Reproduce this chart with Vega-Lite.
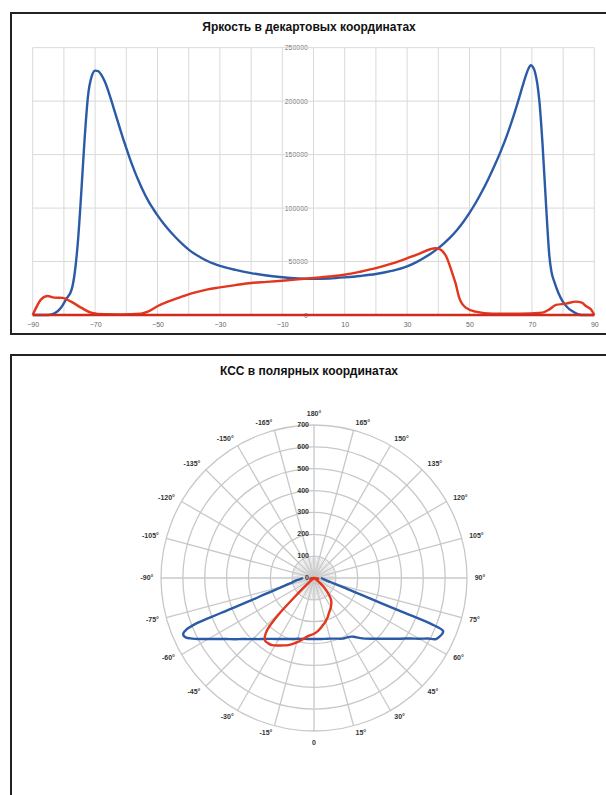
{
  "$schema": "https://vega.github.io/schema/vega-lite/v6.json",
  "background": "white",
  "padding": {"left": 10, "top": 12, "right": 0, "bottom": 0},
  "spacing": 19,
  "config": {"view": {"stroke": "#222", "strokeWidth": 2}, "font": "Liberation Sans"},
  "datasets": {
    "cart": [
      {"s": "b", "x": -90, "y": 0}, {"s": "b", "x": -87, "y": 0}, {"s": "b", "x": -85, "y": 0}, {"s": "b", "x": -83, "y": 1500},
      {"s": "b", "x": -81, "y": 6500}, {"s": "b", "x": -79.3, "y": 14700}, {"s": "b", "x": -77.5, "y": 24000}, {"s": "b", "x": -76.5, "y": 40000},
      {"s": "b", "x": -75.5, "y": 69000}, {"s": "b", "x": -74.4, "y": 116000}, {"s": "b", "x": -73.4, "y": 163000}, {"s": "b", "x": -72.3, "y": 204000},
      {"s": "b", "x": -71, "y": 224000}, {"s": "b", "x": -70, "y": 228500}, {"s": "b", "x": -69, "y": 228000}, {"s": "b", "x": -68, "y": 224500},
      {"s": "b", "x": -67, "y": 219000}, {"s": "b", "x": -66, "y": 211500}, {"s": "b", "x": -65, "y": 202500}, {"s": "b", "x": -64, "y": 193000},
      {"s": "b", "x": -63, "y": 183500}, {"s": "b", "x": -62, "y": 174000}, {"s": "b", "x": -61, "y": 164800}, {"s": "b", "x": -60, "y": 156000},
      {"s": "b", "x": -59, "y": 147500}, {"s": "b", "x": -58, "y": 139500}, {"s": "b", "x": -57, "y": 132000}, {"s": "b", "x": -56, "y": 125000},
      {"s": "b", "x": -55, "y": 118500}, {"s": "b", "x": -54, "y": 112500}, {"s": "b", "x": -53, "y": 107000}, {"s": "b", "x": -52, "y": 102000},
      {"s": "b", "x": -51, "y": 97500}, {"s": "b", "x": -50, "y": 93200}, {"s": "b", "x": -48, "y": 85300}, {"s": "b", "x": -46, "y": 78300},
      {"s": "b", "x": -44, "y": 72000}, {"s": "b", "x": -42, "y": 66300}, {"s": "b", "x": -40, "y": 61200}, {"s": "b", "x": -38, "y": 57000},
      {"s": "b", "x": -36, "y": 53500}, {"s": "b", "x": -34, "y": 50500}, {"s": "b", "x": -32, "y": 48000}, {"s": "b", "x": -30, "y": 46000},
      {"s": "b", "x": -25, "y": 42200}, {"s": "b", "x": -20, "y": 39200}, {"s": "b", "x": -15, "y": 37000}, {"s": "b", "x": -10, "y": 35300},
      {"s": "b", "x": -5, "y": 34200}, {"s": "b", "x": 0, "y": 33800}, {"s": "b", "x": 5, "y": 34200}, {"s": "b", "x": 10, "y": 35200},
      {"s": "b", "x": 15, "y": 36500}, {"s": "b", "x": 20, "y": 38300}, {"s": "b", "x": 25, "y": 41200}, {"s": "b", "x": 30, "y": 45500},
      {"s": "b", "x": 33, "y": 49500}, {"s": "b", "x": 36, "y": 54500}, {"s": "b", "x": 38, "y": 58300}, {"s": "b", "x": 40, "y": 62500},
      {"s": "b", "x": 42, "y": 67500}, {"s": "b", "x": 44, "y": 73000}, {"s": "b", "x": 46, "y": 79500}, {"s": "b", "x": 48, "y": 87000},
      {"s": "b", "x": 50, "y": 95500}, {"s": "b", "x": 52, "y": 105000}, {"s": "b", "x": 54, "y": 115500}, {"s": "b", "x": 56, "y": 127000},
      {"s": "b", "x": 58, "y": 139500}, {"s": "b", "x": 60, "y": 153000}, {"s": "b", "x": 62, "y": 168000}, {"s": "b", "x": 64, "y": 185000},
      {"s": "b", "x": 65.5, "y": 199000}, {"s": "b", "x": 67, "y": 214000}, {"s": "b", "x": 68, "y": 223500}, {"s": "b", "x": 69, "y": 231000},
      {"s": "b", "x": 69.6, "y": 233500}, {"s": "b", "x": 70.3, "y": 232000}, {"s": "b", "x": 71, "y": 227000}, {"s": "b", "x": 71.7, "y": 217000},
      {"s": "b", "x": 72.4, "y": 200000}, {"s": "b", "x": 73.4, "y": 160000}, {"s": "b", "x": 74.3, "y": 115000}, {"s": "b", "x": 75, "y": 80000},
      {"s": "b", "x": 75.6, "y": 55000}, {"s": "b", "x": 76.3, "y": 40000}, {"s": "b", "x": 77.2, "y": 31000}, {"s": "b", "x": 78.5, "y": 20500},
      {"s": "b", "x": 79.8, "y": 13000}, {"s": "b", "x": 81.5, "y": 6800}, {"s": "b", "x": 83, "y": 3500}, {"s": "b", "x": 85, "y": 500},
      {"s": "b", "x": 86, "y": 0}, {"s": "b", "x": 90, "y": 0},
      {"s": "r", "x": -90, "y": 0}, {"s": "r", "x": -88.9, "y": 6900}, {"s": "r", "x": -87.3, "y": 14700}, {"s": "r", "x": -85.2, "y": 17800},
      {"s": "r", "x": -83.1, "y": 16300}, {"s": "r", "x": -80.4, "y": 16000}, {"s": "r", "x": -77.7, "y": 12500}, {"s": "r", "x": -74.5, "y": 6900},
      {"s": "r", "x": -71.3, "y": 2200}, {"s": "r", "x": -67, "y": 700}, {"s": "r", "x": -61.7, "y": 600}, {"s": "r", "x": -55.3, "y": 1300},
      {"s": "r", "x": -53.1, "y": 3100}, {"s": "r", "x": -49.9, "y": 8400}, {"s": "r", "x": -46.7, "y": 12500}, {"s": "r", "x": -42.5, "y": 16900},
      {"s": "r", "x": -38.2, "y": 20900}, {"s": "r", "x": -33.9, "y": 24000}, {"s": "r", "x": -30, "y": 25800}, {"s": "r", "x": -25, "y": 28000},
      {"s": "r", "x": -20, "y": 30000}, {"s": "r", "x": -15, "y": 31000}, {"s": "r", "x": -10, "y": 32100}, {"s": "r", "x": -5, "y": 33300},
      {"s": "r", "x": 0, "y": 34600}, {"s": "r", "x": 5, "y": 36000}, {"s": "r", "x": 10, "y": 37700}, {"s": "r", "x": 15, "y": 40500},
      {"s": "r", "x": 20, "y": 43800}, {"s": "r", "x": 25, "y": 48000}, {"s": "r", "x": 30, "y": 53100}, {"s": "r", "x": 34, "y": 57500},
      {"s": "r", "x": 37.4, "y": 61500}, {"s": "r", "x": 39, "y": 62500}, {"s": "r", "x": 40.5, "y": 61500}, {"s": "r", "x": 42.5, "y": 55000},
      {"s": "r", "x": 44.6, "y": 38100}, {"s": "r", "x": 45.5, "y": 30000}, {"s": "r", "x": 46.7, "y": 16250}, {"s": "r", "x": 48.8, "y": 6900},
      {"s": "r", "x": 52, "y": 3100}, {"s": "r", "x": 57.3, "y": 1250}, {"s": "r", "x": 66, "y": 1250}, {"s": "r", "x": 73.4, "y": 2200},
      {"s": "r", "x": 75.6, "y": 5300}, {"s": "r", "x": 77.7, "y": 9400}, {"s": "r", "x": 80.9, "y": 10600}, {"s": "r", "x": 84.1, "y": 12500},
      {"s": "r", "x": 86, "y": 11500}, {"s": "r", "x": 87.3, "y": 8400}, {"s": "r", "x": 88.9, "y": 5300}, {"s": "r", "x": 90, "y": 0},
      {"s": "r0", "x": -90, "y": 0}, {"s": "r0", "x": 90, "y": 0}
    ],
    "vg": [{"g": -90}, {"g": -80}, {"g": -70}, {"g": -60}, {"g": -50}, {"g": -40}, {"g": -30}, {"g": -20}, {"g": -10}, {"g": 0}, {"g": 10}, {"g": 20}, {"g": 30}, {"g": 40}, {"g": 50}, {"g": 60}, {"g": 70}, {"g": 80}, {"g": 90}],
    "hg": [{"g": 50000}, {"g": 100000}, {"g": 150000}, {"g": 200000}, {"g": 250000}],
    "polar": [
      {"s": "b", "a": -90, "r": 50}, {"s": "b", "a": -86, "r": 60}, {"s": "b", "a": -82, "r": 85}, {"s": "b", "a": -78, "r": 105},
      {"s": "b", "a": -76, "r": 130}, {"s": "b", "a": -74, "r": 160}, {"s": "b", "a": -72, "r": 230}, {"s": "b", "a": -70.4, "r": 306},
      {"s": "b", "a": -69.4, "r": 455}, {"s": "b", "a": -68.9, "r": 579}, {"s": "b", "a": -68, "r": 630}, {"s": "b", "a": -67, "r": 650},
      {"s": "b", "a": -66, "r": 652}, {"s": "b", "a": -65, "r": 645}, {"s": "b", "a": -64, "r": 630}, {"s": "b", "a": -63, "r": 613},
      {"s": "b", "a": -62, "r": 594}, {"s": "b", "a": -60, "r": 558}, {"s": "b", "a": -57, "r": 512}, {"s": "b", "a": -55, "r": 487},
      {"s": "b", "a": -52, "r": 455}, {"s": "b", "a": -50, "r": 434}, {"s": "b", "a": -47, "r": 410}, {"s": "b", "a": -45, "r": 395},
      {"s": "b", "a": -42, "r": 376}, {"s": "b", "a": -40, "r": 364}, {"s": "b", "a": -35, "r": 340}, {"s": "b", "a": -30, "r": 322},
      {"s": "b", "a": -25, "r": 308}, {"s": "b", "a": -20, "r": 297}, {"s": "b", "a": -15, "r": 288}, {"s": "b", "a": -10, "r": 283},
      {"s": "b", "a": -5, "r": 280}, {"s": "b", "a": 0, "r": 279}, {"s": "b", "a": 5, "r": 280}, {"s": "b", "a": 10, "r": 283},
      {"s": "b", "a": 15, "r": 287}, {"s": "b", "a": 20, "r": 295}, {"s": "b", "a": 25, "r": 306}, {"s": "b", "a": 28, "r": 310},
      {"s": "b", "a": 31, "r": 314}, {"s": "b", "a": 34, "r": 324}, {"s": "b", "a": 37, "r": 343}, {"s": "b", "a": 40, "r": 362},
      {"s": "b", "a": 45, "r": 393}, {"s": "b", "a": 50, "r": 432}, {"s": "b", "a": 55, "r": 484}, {"s": "b", "a": 58, "r": 522},
      {"s": "b", "a": 60, "r": 556}, {"s": "b", "a": 62, "r": 590}, {"s": "b", "a": 63.4, "r": 624}, {"s": "b", "a": 65, "r": 634},
      {"s": "b", "a": 66.5, "r": 640}, {"s": "b", "a": 67.7, "r": 638}, {"s": "b", "a": 68.6, "r": 575}, {"s": "b", "a": 69.06, "r": 426},
      {"s": "b", "a": 70.4, "r": 228}, {"s": "b", "a": 73, "r": 130}, {"s": "b", "a": 76, "r": 80}, {"s": "b", "a": 80, "r": 55},
      {"s": "b", "a": 85, "r": 40}, {"s": "b", "a": 90, "r": 32},
      {"s": "r", "a": -90, "r": 0}, {"s": "r", "a": -85, "r": 10}, {"s": "r", "a": -80, "r": 18}, {"s": "r", "a": -75, "r": 8},
      {"s": "r", "a": -70, "r": 3}, {"s": "r", "a": -60, "r": 2}, {"s": "r", "a": -55, "r": 3}, {"s": "r", "a": -50, "r": 15},
      {"s": "r", "a": -48, "r": 35}, {"s": "r", "a": -46, "r": 105}, {"s": "r", "a": -44, "r": 240}, {"s": "r", "a": -42, "r": 320},
      {"s": "r", "a": -40, "r": 350}, {"s": "r", "a": -38, "r": 364}, {"s": "r", "a": -35, "r": 365}, {"s": "r", "a": -32, "r": 362},
      {"s": "r", "a": -28, "r": 350}, {"s": "r", "a": -25, "r": 340}, {"s": "r", "a": -21, "r": 329}, {"s": "r", "a": -15, "r": 305},
      {"s": "r", "a": -10, "r": 283}, {"s": "r", "a": -5, "r": 265}, {"s": "r", "a": 0, "r": 255}, {"s": "r", "a": 5, "r": 240},
      {"s": "r", "a": 10, "r": 222}, {"s": "r", "a": 15, "r": 205}, {"s": "r", "a": 20, "r": 187}, {"s": "r", "a": 23, "r": 174},
      {"s": "r", "a": 28, "r": 160}, {"s": "r", "a": 33, "r": 145}, {"s": "r", "a": 38, "r": 127}, {"s": "r", "a": 42, "r": 100},
      {"s": "r", "a": 45, "r": 78}, {"s": "r", "a": 48, "r": 55}, {"s": "r", "a": 50, "r": 38}, {"s": "r", "a": 53, "r": 20},
      {"s": "r", "a": 55, "r": 8}, {"s": "r", "a": 60, "r": 3}, {"s": "r", "a": 70, "r": 2}, {"s": "r", "a": 75, "r": 5},
      {"s": "r", "a": 78, "r": 15}, {"s": "r", "a": 82, "r": 20}, {"s": "r", "a": 85, "r": 18}, {"s": "r", "a": 88, "r": 10},
      {"s": "r", "a": 90, "r": 0}
    ],
    "rings": [{"r": 100}, {"r": 200}, {"r": 300}, {"r": 400}, {"r": 500}, {"r": 600}, {"r": 700}],
    "spokes": [
      {"a": -175}, {"a": -170}, {"a": -165}, {"a": -160}, {"a": -155}, {"a": -150}, {"a": -145}, {"a": -140}, {"a": -135}, {"a": -130}, {"a": -125}, {"a": -120},
      {"a": -115}, {"a": -110}, {"a": -105}, {"a": -100}, {"a": -95}, {"a": -90}, {"a": -85}, {"a": -80}, {"a": -75}, {"a": -70}, {"a": -65}, {"a": -60},
      {"a": -55}, {"a": -50}, {"a": -45}, {"a": -40}, {"a": -35}, {"a": -30}, {"a": -25}, {"a": -20}, {"a": -15}, {"a": -10}, {"a": -5}, {"a": 0},
      {"a": 5}, {"a": 10}, {"a": 15}, {"a": 20}, {"a": 25}, {"a": 30}, {"a": 35}, {"a": 40}, {"a": 45}, {"a": 50}, {"a": 55}, {"a": 60},
      {"a": 65}, {"a": 70}, {"a": 75}, {"a": 80}, {"a": 85}, {"a": 90}, {"a": 95}, {"a": 100}, {"a": 105}, {"a": 110}, {"a": 115}, {"a": 120},
      {"a": 125}, {"a": 130}, {"a": 135}, {"a": 140}, {"a": 145}, {"a": 150}, {"a": 155}, {"a": 160}, {"a": 165}, {"a": 170}, {"a": 175}, {"a": 180}
    ],
    "rl": [{"v": 0, "t": "0"}, {"v": 100, "t": "100"}, {"v": 200, "t": "200"}, {"v": 300, "t": "300"}, {"v": 400, "t": "400"}, {"v": 500, "t": "500"}, {"v": 600, "t": "600"}, {"v": 700, "t": "700"}],
    "al": [
      {"a": 180, "t": "180°"}, {"a": 165, "t": "165°"}, {"a": 150, "t": "150°"}, {"a": 135, "t": "135°"}, {"a": 120, "t": "120°"}, {"a": 105, "t": "105°"},
      {"a": 90, "t": "90°"}, {"a": 75, "t": "75°"}, {"a": 60, "t": "60°"}, {"a": 45, "t": "45°"}, {"a": 30, "t": "30°"}, {"a": 15, "t": "15°"},
      {"a": 0, "t": "0"}, {"a": -15, "t": "-15°"}, {"a": -30, "t": "-30°"}, {"a": -45, "t": "-45°"}, {"a": -60, "t": "-60°"}, {"a": -75, "t": "-75°"},
      {"a": -90, "t": "-90°"}, {"a": -105, "t": "-105°"}, {"a": -120, "t": "-120°"}, {"a": -135, "t": "-135°"}, {"a": -150, "t": "-150°"}, {"a": -165, "t": "-165°"}
    ]
  },
  "vconcat": [
    {
      "width": 596,
      "height": 321,
      "title": {"text": "Яркость в декартовых координатах", "offset": -26, "baseline": "middle", "fontSize": 12, "fontWeight": "bold", "color": "#111", "anchor": "middle"},
      "layer": [
        {
          "data": {"name": "vg"},
          "transform": [{"calculate": "0", "as": "y0"}, {"calculate": "250000", "as": "y1"}],
          "mark": {"type": "rule", "stroke": "#d9d9d9", "strokeWidth": 1},
          "encoding": {
            "x": {"field": "g", "type": "quantitative", "scale": {"domain": [-96.955, 94.071], "nice": false, "zero": false},
                  "axis": {"values": [-90, -80, -70, -60, -50, -40, -30, -20, -10, 0, 10, 20, 30, 40, 50, 60, 70, 80, 90], "title": null, "domain": false, "ticks": false, "grid": false, "labelFontSize": 7, "labelColor": "#666", "labelPadding": 5, "offset": -19, "labelFlush": false, "labelOverlap": false}},
            "y": {"field": "y0", "type": "quantitative", "scale": {"domain": [-17757, 282431], "nice": false, "zero": false},
                  "axis": {"values": [0, 50000, 100000, 150000, 200000, 250000], "format": "d", "title": null, "domain": false, "ticks": false, "grid": false, "labelFontSize": 7, "labelColor": "#777", "labelPadding": 6, "offset": -302.5, "labelFlush": false, "labelOverlap": false}},
            "y2": {"field": "y1"}
          }
        },
        {
          "data": {"name": "hg"},
          "transform": [{"calculate": "-90", "as": "x0"}, {"calculate": "90", "as": "x1"}],
          "mark": {"type": "rule", "stroke": "#d9d9d9", "strokeWidth": 1},
          "encoding": {
            "y": {"field": "g", "type": "quantitative"},
            "x": {"field": "x0", "type": "quantitative"},
            "x2": {"field": "x1"}
          }
        },
        {
          "data": {"name": "cart"},
          "mark": {"type": "line", "strokeWidth": 2.4, "interpolate": "monotone"},
          "encoding": {
            "x": {"field": "x", "type": "quantitative"},
            "y": {"field": "y", "type": "quantitative"},
            "color": {"field": "s", "type": "nominal", "scale": {"domain": ["b", "r", "r0"], "range": ["#2b5aa6", "#e2361f", "#cf2b1f"]}, "legend": null}
          }
        }
      ]
    },
    {
      "width": 596,
      "height": 443,
      "title": {"text": "КСС в полярных координатах", "offset": -28, "baseline": "middle", "fontSize": 12, "fontWeight": "bold", "color": "#111", "anchor": "middle"},
      "layer": [
        {
          "data": {"name": "rings"},
          "transform": [{"calculate": "0", "as": "z"}],
          "mark": {"type": "point", "shape": "circle", "filled": false, "stroke": "#c8c8c8", "strokeWidth": 1.3, "opacity": 1},
          "encoding": {
            "x": {"field": "z", "type": "quantitative", "scale": {"domain": [-1386.3, 1340.5], "nice": false, "zero": false}, "axis": null},
            "y": {"field": "z", "type": "quantitative", "scale": {"domain": [-1006.5, 1020.3], "nice": false, "zero": false}, "axis": null},
            "size": {"field": "r", "type": "quantitative", "scale": {"type": "pow", "exponent": 2, "domain": [0, 700], "range": [0, 93636]}, "legend": null}
          }
        },
        {
          "data": {"name": "spokes"},
          "transform": [
            {"calculate": "0", "as": "z"},
            {"calculate": "100 * sin(datum.a * PI / 180)", "as": "ex"},
            {"calculate": "-100 * cos(datum.a * PI / 180)", "as": "ey"}
          ],
          "mark": {"type": "rule", "stroke": "#d4d4d4", "strokeWidth": 0.8},
          "encoding": {
            "x": {"field": "z", "type": "quantitative", "scale": {"domain": [-1386.3, 1340.5], "nice": false, "zero": false}, "axis": null},
            "y": {"field": "z", "type": "quantitative", "scale": {"domain": [-1006.5, 1020.3], "nice": false, "zero": false}, "axis": null},
            "x2": {"field": "ex"},
            "y2": {"field": "ey"}
          }
        },
        {
          "data": {"name": "spokes"},
          "transform": [
            {"filter": "datum.a % 15 == 0"},
            {"calculate": "0", "as": "z"},
            {"calculate": "700 * sin(datum.a * PI / 180)", "as": "ex"},
            {"calculate": "-700 * cos(datum.a * PI / 180)", "as": "ey"}
          ],
          "mark": {"type": "rule", "stroke": "#c8c8c8", "strokeWidth": 1.3},
          "encoding": {
            "x": {"field": "z", "type": "quantitative", "scale": {"domain": [-1386.3, 1340.5], "nice": false, "zero": false}, "axis": null},
            "y": {"field": "z", "type": "quantitative", "scale": {"domain": [-1006.5, 1020.3], "nice": false, "zero": false}, "axis": null},
            "x2": {"field": "ex"},
            "y2": {"field": "ey"}
          }
        },
        {
          "data": {"name": "polar"},
          "transform": [
            {"calculate": "datum.r * sin(datum.a * PI / 180)", "as": "px"},
            {"calculate": "-datum.r * cos(datum.a * PI / 180)", "as": "py"}
          ],
          "mark": {"type": "line", "strokeWidth": 2.4, "interpolate": "catmull-rom"},
          "encoding": {
            "x": {"field": "px", "type": "quantitative", "scale": {"domain": [-1386.3, 1340.5], "nice": false, "zero": false}, "axis": null},
            "y": {"field": "py", "type": "quantitative", "scale": {"domain": [-1006.5, 1020.3], "nice": false, "zero": false}, "axis": null},
            "order": {"field": "a", "type": "quantitative"},
            "color": {"field": "s", "type": "nominal", "scale": {"domain": ["b", "r"], "range": ["#2b5aa6", "#e2361f"]}, "legend": null}
          }
        },
        {
          "data": {"name": "rl"},
          "transform": [{"calculate": "0", "as": "z"}],
          "mark": {"type": "text", "align": "right", "baseline": "middle", "dx": -5, "fontSize": 7, "fontWeight": "bold", "color": "#333"},
          "encoding": {
            "x": {"field": "z", "type": "quantitative", "scale": {"domain": [-1386.3, 1340.5], "nice": false, "zero": false}, "axis": null},
            "y": {"field": "v", "type": "quantitative", "scale": {"domain": [-1006.5, 1020.3], "nice": false, "zero": false}, "axis": null},
            "text": {"field": "t", "type": "nominal"}
          }
        },
        {
          "data": {"name": "al"},
          "transform": [
            {"filter": "datum.a > 0 && datum.a < 180"},
            {"calculate": "735 * sin(datum.a * PI / 180)", "as": "lx"},
            {"calculate": "-735 * cos(datum.a * PI / 180)", "as": "ly"}
          ],
          "mark": {"type": "text", "align": "left", "baseline": "middle", "fontSize": 7, "fontWeight": "bold", "color": "#333"},
          "encoding": {
            "x": {"field": "lx", "type": "quantitative", "scale": {"domain": [-1386.3, 1340.5], "nice": false, "zero": false}, "axis": null},
            "y": {"field": "ly", "type": "quantitative", "scale": {"domain": [-1006.5, 1020.3], "nice": false, "zero": false}, "axis": null},
            "text": {"field": "t", "type": "nominal"}
          }
        },
        {
          "data": {"name": "al"},
          "transform": [
            {"filter": "datum.a < 0"},
            {"calculate": "735 * sin(datum.a * PI / 180)", "as": "lx"},
            {"calculate": "-735 * cos(datum.a * PI / 180)", "as": "ly"}
          ],
          "mark": {"type": "text", "align": "right", "baseline": "middle", "fontSize": 7, "fontWeight": "bold", "color": "#333"},
          "encoding": {
            "x": {"field": "lx", "type": "quantitative", "scale": {"domain": [-1386.3, 1340.5], "nice": false, "zero": false}, "axis": null},
            "y": {"field": "ly", "type": "quantitative", "scale": {"domain": [-1006.5, 1020.3], "nice": false, "zero": false}, "axis": null},
            "text": {"field": "t", "type": "nominal"}
          }
        },
        {
          "data": {"name": "al"},
          "transform": [
            {"filter": "datum.a == 180"},
            {"calculate": "735 * sin(datum.a * PI / 180)", "as": "lx"},
            {"calculate": "-735 * cos(datum.a * PI / 180)", "as": "ly"}
          ],
          "mark": {"type": "text", "align": "center", "baseline": "bottom", "fontSize": 7, "fontWeight": "bold", "color": "#333"},
          "encoding": {
            "x": {"field": "lx", "type": "quantitative", "scale": {"domain": [-1386.3, 1340.5], "nice": false, "zero": false}, "axis": null},
            "y": {"field": "ly", "type": "quantitative", "scale": {"domain": [-1006.5, 1020.3], "nice": false, "zero": false}, "axis": null},
            "text": {"field": "t", "type": "nominal"}
          }
        },
        {
          "data": {"name": "al"},
          "transform": [
            {"filter": "datum.a == 0"},
            {"calculate": "735 * sin(datum.a * PI / 180)", "as": "lx"},
            {"calculate": "-735 * cos(datum.a * PI / 180)", "as": "ly"}
          ],
          "mark": {"type": "text", "align": "center", "baseline": "top", "fontSize": 7, "fontWeight": "bold", "color": "#333"},
          "encoding": {
            "x": {"field": "lx", "type": "quantitative", "scale": {"domain": [-1386.3, 1340.5], "nice": false, "zero": false}, "axis": null},
            "y": {"field": "ly", "type": "quantitative", "scale": {"domain": [-1006.5, 1020.3], "nice": false, "zero": false}, "axis": null},
            "text": {"field": "t", "type": "nominal"}
          }
        }
      ]
    }
  ]
}
